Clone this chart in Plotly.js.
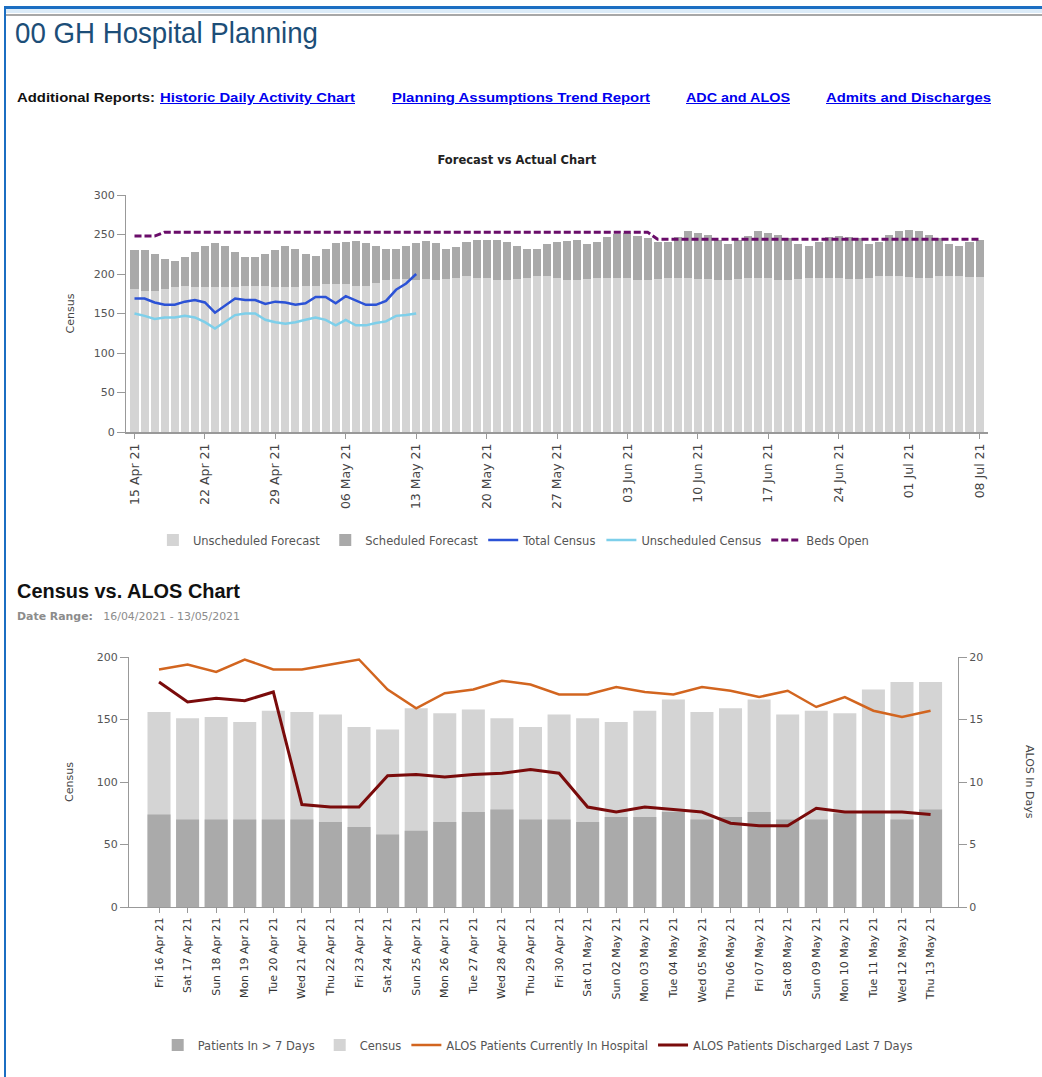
<!DOCTYPE html>
<html><head><meta charset="utf-8">
<script src="https://cdn.plot.ly/plotly-3.0.1.min.js"></script>
<style>
html,body{margin:0;padding:0;background:#fff;}
body{width:1042px;height:1077px;overflow:hidden;position:relative;font-family:"DejaVu Sans",sans-serif;}
.abs{position:absolute;white-space:nowrap;transform-origin:0 0;}
.nar{font-family:"Liberation Sans Narrow","Liberation Sans",Arial,sans-serif;}
.lnk{color:#0000ee;text-decoration:underline;font-weight:bold;font-size:12px;line-height:14px;top:91px;}
#topChart{position:absolute;left:0;top:140px;width:1042px;height:420px;}
#botChart{position:absolute;left:0;top:630px;width:1042px;height:447px;}
</style></head><body>
<div class="abs" style="left:4px;top:6px;width:1038px;height:3px;background:#1b6ec2"></div>
<div class="abs" style="left:6px;top:9px;width:1036px;height:4px;background:#dcecf9"></div>
<div class="abs" style="left:6px;top:14px;width:1036px;height:2px;background:#a8a8a8"></div>
<div class="abs" style="left:4px;top:6px;width:2px;height:1071px;background:#1b6ec2"></div>

<div class="abs nar fit" data-w="303" style="left:15px;top:16px;font-size:30px;line-height:34px;color:#1c4e78">00 GH Hospital Planning</div>
<div class="abs nar fit" data-w="138" style="left:17px;top:91px;font-size:12px;line-height:14px;font-weight:bold;color:#111">Additional Reports:</div>
<div class="abs nar fit lnk" data-w="195" style="left:160px">Historic Daily Activity Chart</div>
<div class="abs nar fit lnk" data-w="258" style="left:392px">Planning Assumptions Trend Report</div>
<div class="abs nar fit lnk" data-w="104" style="left:686px">ADC and ALOS</div>
<div class="abs nar fit lnk" data-w="165" style="left:826px">Admits and Discharges</div>

<div class="abs nar fit" data-w="223" style="left:17px;top:579px;font-size:20px;line-height:24px;font-weight:bold;color:#111">Census vs. ALOS Chart</div>
<div class="abs fit" data-w="223" style="left:17px;top:610px;font-size:11px;line-height:13px;color:#8c8c8c"><b>Date Range:</b>&nbsp;&nbsp;&nbsp;16/04/2021 - 13/05/2021</div>

<div id="topChart"></div>
<div id="botChart"></div>

<script>
// ---------- Top chart data ----------
var topDates = ['2021-04-15','2021-04-16','2021-04-17','2021-04-18','2021-04-19','2021-04-20','2021-04-21','2021-04-22','2021-04-23','2021-04-24','2021-04-25','2021-04-26','2021-04-27','2021-04-28','2021-04-29','2021-04-30',
'2021-05-01','2021-05-02','2021-05-03','2021-05-04','2021-05-05','2021-05-06','2021-05-07','2021-05-08','2021-05-09','2021-05-10','2021-05-11','2021-05-12','2021-05-13','2021-05-14','2021-05-15','2021-05-16','2021-05-17','2021-05-18','2021-05-19','2021-05-20','2021-05-21','2021-05-22','2021-05-23','2021-05-24','2021-05-25','2021-05-26','2021-05-27','2021-05-28','2021-05-29','2021-05-30','2021-05-31',
'2021-06-01','2021-06-02','2021-06-03','2021-06-04','2021-06-05','2021-06-06','2021-06-07','2021-06-08','2021-06-09','2021-06-10','2021-06-11','2021-06-12','2021-06-13','2021-06-14','2021-06-15','2021-06-16','2021-06-17','2021-06-18','2021-06-19','2021-06-20','2021-06-21','2021-06-22','2021-06-23','2021-06-24','2021-06-25','2021-06-26','2021-06-27','2021-06-28','2021-06-29','2021-06-30',
'2021-07-01','2021-07-02','2021-07-03','2021-07-04','2021-07-05','2021-07-06','2021-07-07','2021-07-08'];

var unscheduledForecast = [181,179,179,181,183,185,183,183,183,183,183,185,185,185,183,183,183,185,185,187,187,187,185,185,189,192,194,194,192,194,
192,194,195,197,195,195,192,192,194,195,197,197,195,192,192,194,195,195,195,195,192,192,194,195,195,195,194,194,192,192,
194,195,195,195,192,192,194,195,195,195,195,194,194,195,197,197,198,196,195,195,197,198,197,196,196];

var scheduledForecast = [49,51,46,38,33,37,45,52,56,52,45,37,36,40,47,52,49,40,38,45,52,54,57,54,46,40,38,41,47,48,
47,38,39,44,48,48,51,48,41,37,35,41,46,50,51,44,45,52,56,57,56,54,47,45,52,60,58,56,51,46,
49,53,59,57,58,53,44,40,46,52,53,53,51,43,44,53,56,60,59,55,48,40,39,45,47];

var censusDates = ['2021-04-15','2021-04-16','2021-04-17','2021-04-18','2021-04-19','2021-04-20','2021-04-21','2021-04-22','2021-04-23','2021-04-24','2021-04-25','2021-04-26','2021-04-27','2021-04-28','2021-04-29','2021-04-30',
'2021-05-01','2021-05-02','2021-05-03','2021-05-04','2021-05-05','2021-05-06','2021-05-07','2021-05-08','2021-05-09','2021-05-10','2021-05-11','2021-05-12','2021-05-13'];

var totalCensus = [169,169,164,161,161,165,167,164,151,160,169,167,167,162,165,164,161,163,171,171,163,172,166,161,161,166,180,188,200];
var unscheduledCensus = [150,147,143,145,145,147,145,139,131,140,148,150,150,142,139,137,139,142,145,142,135,142,135,135,138,140,147,148,150];

var bedsOpen = [248,248,248,253,253,253,253,253,253,253,253,253,253,253,253,253,253,253,253,253,253,253,253,253,253,253,253,253,253,253,
253,253,253,253,253,253,253,253,253,253,253,253,253,253,253,253,253,253,253,253,253,253,244,244,244,244,244,244,244,244,
244,244,244,244,244,244,244,244,244,244,244,244,244,244,244,244,244,244,244,244,244,244,244,244,244];

// ---------- Bottom chart data ----------
var alosDays = ['Fri 16 Apr 21','Sat 17 Apr 21','Sun 18 Apr 21','Mon 19 Apr 21','Tue 20 Apr 21','Wed 21 Apr 21','Thu 22 Apr 21','Fri 23 Apr 21','Sat 24 Apr 21','Sun 25 Apr 21','Mon 26 Apr 21','Tue 27 Apr 21','Wed 28 Apr 21','Thu 29 Apr 21','Fri 30 Apr 21',
'Sat 01 May 21','Sun 02 May 21','Mon 03 May 21','Tue 04 May 21','Wed 05 May 21','Thu 06 May 21','Fri 07 May 21','Sat 08 May 21','Sun 09 May 21','Mon 10 May 21','Tue 11 May 21','Wed 12 May 21','Thu 13 May 21'];
var censusCount = [156,151,152,148,157,156,154,144,142,159,155,158,151,144,154,151,148,157,166,156,159,166,154,157,155,174,180,180];
var patientsOver7 = [74,70,70,70,70,70,68,64,58,61,68,76,78,70,70,68,72,72,76,70,72,76,70,70,75,75,70,78];
var alosCurrent = [19.0,19.4,18.8,19.8,19.0,19.0,19.4,19.8,17.4,15.9,17.1,17.4,18.1,17.8,17.0,17.0,17.6,17.2,17.0,17.6,17.3,16.8,17.3,16.0,16.8,15.7,15.2,15.7];
var alosDischarged = [18.0,16.4,16.7,16.5,17.2,8.2,8.0,8.0,10.5,10.6,10.4,10.6,10.7,11.0,10.7,8.0,7.6,8.0,7.8,7.6,6.7,6.5,6.5,7.9,7.6,7.6,7.6,7.4];

// ---------- header text fitting ----------
document.querySelectorAll('.fit').forEach(function(el){
  var w = el.getBoundingClientRect().width;
  var t = +el.getAttribute('data-w');
  if (w > 0) el.style.transform = 'scaleX(' + (t / w) + ')';
});

var FONT = 'DejaVu Sans, Verdana, sans-serif';
var axisCol = '#999';

// ---------- Top chart ----------
var topTraces = [
  {type:'bar', name:'Unscheduled Forecast', x:topDates, y:unscheduledForecast, marker:{color:'#d4d4d4'}},
  {type:'bar', name:'Scheduled Forecast', x:topDates, y:scheduledForecast, marker:{color:'#a9a9a9'}},
  {type:'scatter', mode:'lines', name:'Total Census', x:censusDates, y:totalCensus, line:{color:'#2b52d6', width:2.5}},
  {type:'scatter', mode:'lines', name:'Unscheduled Census', x:censusDates, y:unscheduledCensus, line:{color:'#7dcfea', width:2.5}},
  {type:'scatter', mode:'lines', name:'Beds Open', x:topDates, y:bedsOpen, line:{color:'#6a0d6a', width:3, dash:'7px,3px'}}
];
var topLayout = {
  width:1042, height:420, margin:{l:126, r:54, t:55, b:128, autoexpand:false},
  paper_bgcolor:'rgba(0,0,0,0)', plot_bgcolor:'rgba(0,0,0,0)',
  font:{family:FONT, size:11, color:'#555'},
  title:{text:'Forecast vs Actual Chart', font:{family:FONT, size:11.5, color:'#222', weight:'bold'},
         x:0.496, xref:'container', xanchor:'center', y:1-20/420, yref:'container', yanchor:'middle'},
  barmode:'stack', bargap:0.2,
  xaxis:{type:'date', range:['2021-04-14 03:43','2021-07-08 20:10'], tick0:'2021-04-15', dtick:7*86400000,
         tickformat:'%d %b %y', tickangle:-90, ticks:'outside', ticklen:5, tickcolor:axisCol,
         showline:true, linecolor:axisCol, linewidth:1.5, showgrid:false, zeroline:false,
         tickfont:{size:12.5, color:'#444'}},
  yaxis:{range:[0,300], dtick:50, ticks:'outside', ticklen:8, tickcolor:axisCol, showline:true, linecolor:axisCol,
         showgrid:false, zeroline:false, tickfont:{size:11, color:'#555'},
         title:{text:'Census', standoff:16, font:{size:11, color:'#444'}}},
  legend:{orientation:'h', x:0.45, xanchor:'center', y:-0.456, yanchor:'middle', traceorder:'normal',
          font:{size:11.5, color:'#555'}},
  showlegend:true
};
Plotly.newPlot('topChart', topTraces, topLayout, {displayModeBar:false, staticPlot:true});

// ---------- Bottom chart ----------
var botTraces = [
  {type:'bar', name:'Census', x:alosDays, y:censusCount, marker:{color:'#d4d4d4'}, legendrank:2},
  {type:'bar', name:'Patients In > 7 Days', x:alosDays, y:patientsOver7, marker:{color:'#aaaaaa'}, legendrank:1},
  {type:'scatter', mode:'lines', name:'ALOS Patients Currently In Hospital', x:alosDays, y:alosCurrent, yaxis:'y2',
   line:{color:'#d2651f', width:2.5}, legendrank:3},
  {type:'scatter', mode:'lines', name:'ALOS Patients Discharged Last 7 Days', x:alosDays, y:alosDischarged, yaxis:'y2',
   line:{color:'#7a0b0b', width:3}, legendrank:4}
];
var botLayout = {
  width:1042, height:447, margin:{l:129, r:84, t:27, b:170, autoexpand:false},
  paper_bgcolor:'rgba(0,0,0,0)', plot_bgcolor:'rgba(0,0,0,0)',
  font:{family:FONT, size:11, color:'#555'},
  barmode:'overlay', bargap:0.195,
  xaxis:{type:'category', range:[-1.05,27.96], tickangle:-90, ticks:'outside', ticklen:5, tickcolor:axisCol,
         showline:true, linecolor:axisCol, showgrid:false, zeroline:false, tickfont:{size:11, color:'#333'}},
  yaxis:{range:[0,200], dtick:50, ticks:'outside', ticklen:8, tickcolor:axisCol, showline:true, linecolor:axisCol,
         showgrid:false, zeroline:false, tickfont:{size:11, color:'#555'},
         title:{text:'Census', standoff:20, font:{size:11, color:'#444'}}},
  yaxis2:{range:[0,20], dtick:5, overlaying:'y', side:'right', ticks:'outside', ticklen:8, tickcolor:axisCol,
          showline:true, linecolor:axisCol, showgrid:false, zeroline:false, tickfont:{size:11, color:'#555'}},
  annotations:[{text:'ALOS In Days', textangle:90, xref:'paper', yref:'paper', x:1.087, y:0.5, xanchor:'center', yanchor:'middle',
                showarrow:false, font:{size:11, color:'#444'}}],
  legend:{orientation:'h', x:0.493, xanchor:'center', y:-0.552, yanchor:'middle', traceorder:'normal',
          font:{size:11.5, color:'#555'}},
  showlegend:true
};
Plotly.newPlot('botChart', botTraces, botLayout, {displayModeBar:false, staticPlot:true});
</script>
</body></html>
